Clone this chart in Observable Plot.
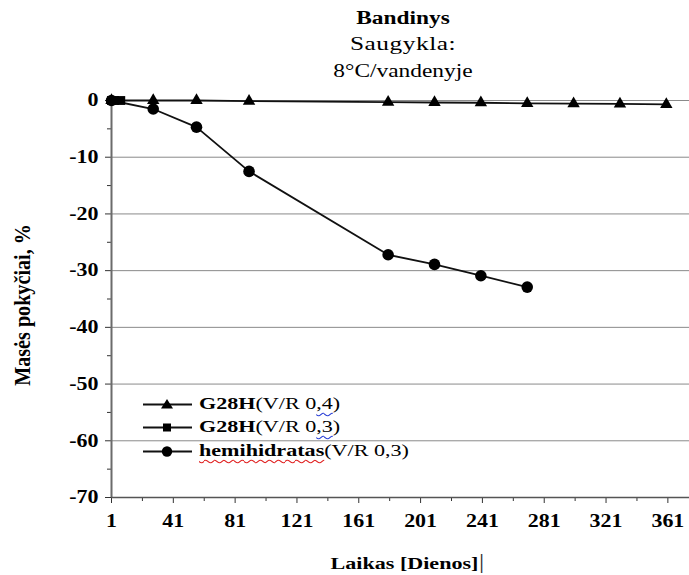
<!DOCTYPE html>
<html>
<head>
<meta charset="utf-8">
<script src="https://cdn.jsdelivr.net/npm/d3@7"></script>
<script src="https://cdn.jsdelivr.net/npm/@observablehq/plot@0.6"></script>
<style>
  body { margin: 0; background: #fff; }
  #wrap { position: relative; width: 689px; height: 575px; font-family: "Liberation Serif", "Times New Roman", "DejaVu Serif", serif; color: #000; overflow: hidden; }
  .tl { position: absolute; left: 253px; width: 300px; text-align: center; font-size: 18px; line-height: 26px; transform: scaleX(1.3); transform-origin: center; white-space: nowrap; }
  #chart { position: absolute; left: 0; top: 85px; }
  .lg { position: absolute; left: 143px; height: 22px; display: flex; align-items: center; white-space: nowrap; }
  .lg svg { display: block; }
  .lg .tx { display: inline-block; margin-left: 6px; font-size: 17px; transform: scaleX(1.3); transform-origin: left center; }
  .wb { text-decoration: underline wavy #2a3fd6; text-decoration-skip-ink: none; text-underline-offset: 3px; text-decoration-thickness: 1.2px; }
  .wr { text-decoration: underline wavy #e02020; text-decoration-skip-ink: none; text-underline-offset: 3px; text-decoration-thickness: 1.2px; }
</style>
</head>
<body>
<div id="wrap">
  <div class="tl" id="t1" style="top:5px;font-weight:bold;"></div>
  <div class="tl" id="t2" style="top:31px;font-size:19.5px;letter-spacing:0.4px;"></div>
  <div class="tl" id="t3" style="top:58px;"></div>
</div>
<script>
// ---- data ----
const titleLines = ["Bandinys", "Saugykla:", "8°C/vandenyje"];
const xLabel = "Laikas [Dienos]";
const yLabel = "Masės pokyčiai, %";

const xTicks = [1, 41, 81, 121, 161, 201, 241, 281, 321, 361];
const xMinor = [21, 61, 101, 141, 181, 221, 261, 301, 341];
const yTicks = [0, -10, -20, -30, -40, -50, -60, -70];
const yMinor = [-5, -15, -25, -35, -45, -55, -65];
const gridY = [0, -10, -20, -30, -40, -50, -60];

const seriesNames = ["G28H", "G28H", "hemihidratas"];
const seriesNotes = ["(V/R 0,4)", "(V/R 0,3)", "(V/R 0,3)"];

const daysG04 = [1, 28, 56, 90, 180, 210, 240, 270, 300, 330, 360];
const massG04 = [0, 0, 0, -0.1, -0.3, -0.35, -0.4, -0.5, -0.55, -0.6, -0.7];

const daysG03 = [1, 3, 7];
const massG03 = [0, 0, 0];

const daysHemi = [1, 28, 56, 90, 180, 210, 240, 270];
const massHemi = [0, -1.5, -4.7, -12.5, -27.2, -28.9, -30.9, -32.9];

// ---- tables ----
const g04 = daysG04.map((d, i) => ({day: d, mass: massG04[i]}));
const g03 = daysG03.map((d, i) => ({day: d, mass: massG03[i]}));
const hemi = daysHemi.map((d, i) => ({day: d, mass: massHemi[i]}));

document.getElementById("t1").textContent = titleLines[0];
document.getElementById("t2").textContent = titleLines[1];
document.getElementById("t3").textContent = titleLines[2];

const lineStyle = {x: "day", y: "mass", stroke: "#111", strokeWidth: 1.8};

const chart = Plot.plot({
  width: 689,
  height: 490,
  marginTop: 15,
  marginBottom: 78,
  marginLeft: 111,
  marginRight: 0,
  style: {fontFamily: "'Liberation Serif', 'Times New Roman', 'DejaVu Serif', serif", fontSize: "17px", color: "#000", background: "transparent", overflow: "visible"},
  x: {domain: [1, 375]},
  y: {domain: [-70, 0]},
  marks: [
    Plot.ruleY(gridY, {stroke: "#8a8a8a", strokeWidth: 1}),
    Plot.axisY({ticks: yMinor, tickSize: 4, tickFormat: () => "", label: null, stroke: "#333"}),
    Plot.axisY({ticks: yTicks, tickSize: 6, tickPadding: 7, tickFormat: d => String(d), fontWeight: "bold", fontSize: 18, label: null, stroke: "#333"}),
    Plot.axisX({ticks: xMinor, tickSize: 4, tickFormat: () => "", label: null, stroke: "#333"}),
    Plot.axisX({ticks: xTicks, tickSize: 6, tickPadding: 11, tickFormat: d => String(d), fontWeight: "bold", fontSize: 18, label: null, stroke: "#333"}),
    Plot.ruleX([1], {y1: -70, y2: 0.7, stroke: "#6b6b6b", strokeWidth: 2}),
    Plot.ruleY([-70], {x1: 1, x2: 375, stroke: "#555", strokeWidth: 1.5}),
    Plot.line(hemi, lineStyle),
    Plot.dot(hemi, {x: "day", y: "mass", symbol: "circle", r: 5.8, fill: "#000"}),
    Plot.line(g04, lineStyle),
    Plot.dot(g04, {x: "day", y: "mass", symbol: "triangle", r: 4.6, fill: "#000"}),
    Plot.line(g03, lineStyle),
    Plot.dot(g03, {x: "day", y: "mass", symbol: "square", r: 5, fill: "#000"}),
    Plot.text([yLabel], {frameAnchor: "left", textAnchor: "middle", dx: -89, dy: 6, rotate: -90, fontWeight: "bold", fontSize: 18}),
    Plot.text([xLabel], {frameAnchor: "bottom", dy: 71, dx: 4, fontWeight: "bold", fontSize: 17}),
    Plot.text(["|"], {frameAnchor: "bottom", dy: 70, dx: 81, fontWeight: "normal", fontSize: 20, fill: "#333"})
  ]
});
chart.id = "chart";

const wrap = document.getElementById("wrap");
wrap.appendChild(chart);

// horizontal stretch of the original picture's text (scale about each text's own anchor)
chart.querySelectorAll("text").forEach(t => {
  const tr = t.getAttribute("transform") || "";
  let b;
  try { b = t.getBBox(); } catch (e) { return; }
  if (!b || (b.width === 0 && b.height === 0)) return;
  if (tr.includes("rotate")) {
    const cx = b.x + b.width / 2;
    const cy = b.y + b.height / 2;
    t.setAttribute("transform", `${tr} translate(${cx},${cy}) scale(1.12,1.3) translate(${-cx},${-cy})`);
  } else {
    const fs = parseFloat(getComputedStyle(t).fontSize) || 17;
    const sx = fs >= 18 && fs < 19 ? 1.22 : 1.3;
    const anchor = t.getAttribute("text-anchor") || (t.parentNode && t.parentNode.getAttribute && t.parentNode.getAttribute("text-anchor")) || getComputedStyle(t).textAnchor || "start";
    const ax = anchor === "end" ? b.x + b.width : anchor === "middle" ? b.x + b.width / 2 : b.x;
    t.setAttribute("transform", `${tr} translate(${ax},0) scale(${sx},1) translate(${-ax},0)`);
  }
});

// legend (inside plot area, lower left)
const legendSymbols = ["triangle", "square", "circle"];
const legendTops = [393, 416, 440];
const symPaths = {
  triangle: '<path d="M24,3 L30,12.5 L18,12.5 Z" fill="#000"/>',
  square: '<rect x="20" y="4.5" width="8" height="8" fill="#000"/>',
  circle: '<circle cx="24" cy="8.5" r="5.2" fill="#000"/>'
};
legendSymbols.forEach((s, i) => {
  const row = document.createElement("div");
  row.className = "lg";
  row.style.top = legendTops[i] + "px";
  const note = seriesNotes[i];
  let noteHtml;
  if (i < 2) {
    const k = note.indexOf(",");
    noteHtml = note.slice(0, k) + '<span class="wb">' + note.slice(k, k + 2) + '</span>' + note.slice(k + 2);
  } else {
    noteHtml = note;
  }
  const nameHtml = i === 2 ? `<b class="wr">${seriesNames[i]}</b>` : `<b>${seriesNames[i]}</b>`;
  row.innerHTML = `<svg width="50" height="17"><line x1="0" x2="49" y1="8.5" y2="8.5" stroke="#111" stroke-width="1.8"/>${symPaths[s]}</svg><span class="tx">${nameHtml}${noteHtml}</span>`;
  wrap.appendChild(row);
});
</script>
</body>
</html>
